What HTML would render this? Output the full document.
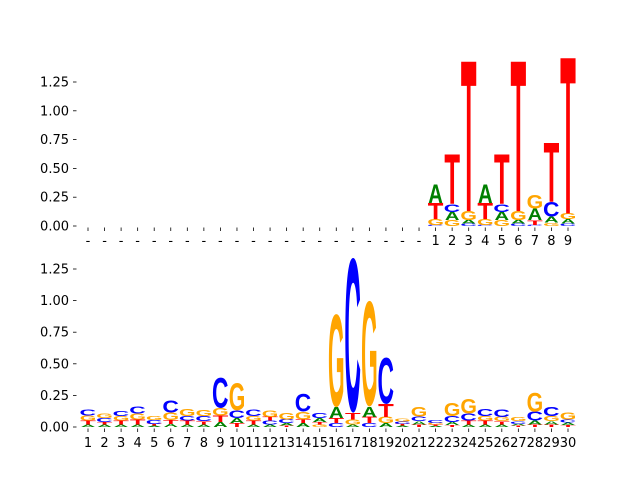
<!DOCTYPE html>
<html><head><meta charset="utf-8"><style>
html,body{margin:0;padding:0;background:#fff;}
svg text{font-family:"DejaVu Sans","Liberation Sans",sans-serif;}
</style></head><body>
<svg id="chart" width="640" height="480" viewBox="0 0 640 480" xmlns="http://www.w3.org/2000/svg">
<g id="top"></g>
<g id="bot"></g>
</svg>
<script>
// ---- top panel data (positions 1..9 shown at slots 22..30) ----
const topLabels = ['-','-','-','-','-','-','-','-','-','-','-','-','-','-','-','-','-','-','-','-','-','1','2','3','4','5','6','7','8','9'];
const topA = [0.16,0.07,0.03,0.16,0.07,0.03,0.10,0.05,0.04];
const topC = [0.01,0.07,0.02,0.01,0.07,0.02,0.01,0.13,0.02];
const topG = [0.05,0.05,0.08,0.05,0.05,0.08,0.12,0.03,0.05];
const topT = [0.14,0.43,1.30,0.14,0.43,1.30,0.04,0.51,1.35];
// ---- bottom panel data (positions 1..30) ----
const botLabels = ['1','2','3','4','5','6','7','8','9','10','11','12','13','14','15','16','17','18','19','20','21','22','23','24','25','26','27','28','29','30'];
const botA = [0.02,0.02,0.02,0.02,0.01,0.025,0.02,0.02,0.04,0.04,0.02,0.02,0.02,0.03,0.03,0.085,0.02,0.08,0.03,0.01,0.025,0.008,0.025,0.02,0.02,0.02,0.015,0.03,0.025,0.02];
const botC = [0.045,0.03,0.04,0.055,0.03,0.10,0.035,0.04,0.24,0.06,0.05,0.03,0.03,0.14,0.04,0.03,1.23,0.03,0.37,0.02,0.035,0.025,0.045,0.055,0.055,0.06,0.02,0.07,0.07,0.025];
const botG = [0.04,0.035,0.035,0.045,0.03,0.06,0.055,0.045,0.06,0.22,0.035,0.05,0.05,0.06,0.02,0.74,0.04,0.84,0.05,0.025,0.08,0.015,0.105,0.12,0.035,0.035,0.03,0.15,0.04,0.055];
const botT = [0.03,0.02,0.03,0.04,0.015,0.03,0.03,0.025,0.05,0.03,0.03,0.03,0.01,0.03,0.02,0.04,0.05,0.05,0.10,0.015,0.02,0.01,0.015,0.03,0.03,0.025,0.01,0.02,0.02,0.015];
const yTicks = [0, 0.25, 0.5, 0.75, 1.0, 1.25];
const yTickLabels = ['0.00','0.25','0.50','0.75','1.00','1.25'];

const NS = 'http://www.w3.org/2000/svg';
const colors = {A:'#008000', C:'#0000ff', G:'#ffa500', T:'#ff0000'};
// approximate ink extents (em units)
const ink = {A:[0.0,0.722,0,0.69], C:[0.05,0.69,-0.012,0.70], G:[0.045,0.73,-0.012,0.70], T:[0.02,0.59,0,0.69]};
const STEP = 480/29;
function xScale(i){ return 88 + i*STEP; }

function panel(gid, base, pxPerUnit, labels, A, C, G, T, offset, labelY){
  const g = document.getElementById(gid);
  const yScale = v => base - v*pxPerUnit;
  yTicks.forEach((v,k)=>{
    const y = yScale(v);
    const ln = document.createElementNS(NS,'line');
    ln.setAttribute('x1',73); ln.setAttribute('x2',76.5); ln.setAttribute('y1',y); ln.setAttribute('y2',y);
    ln.setAttribute('stroke','#000'); ln.setAttribute('stroke-width','0.8');
    
    
    g.appendChild(ln);
    const t = document.createElementNS(NS,'text');
    t.setAttribute('x',69); t.setAttribute('y',y+4.5); t.setAttribute('text-anchor','end');
    t.setAttribute('font-size','13'); t.textContent = yTickLabels[k];
    
    
    g.appendChild(t);
  });
  labels.forEach((lab,i)=>{
    const x = xScale(i);
    const ln = document.createElementNS(NS,'line');
    ln.setAttribute('x1',x); ln.setAttribute('x2',x); ln.setAttribute('y1',base+1.5); ln.setAttribute('y2',base+5);
    ln.setAttribute('stroke','#000'); ln.setAttribute('stroke-width','0.8');
    
    
    g.appendChild(ln);
    const t = document.createElementNS(NS,'text');
    t.setAttribute('x',x); t.setAttribute('y',labelY); t.setAttribute('text-anchor','middle');
    t.setAttribute('font-size','13'); t.textContent = lab;
    
    
    g.appendChild(t);
  });
  const W = 14.6;
  for(let j=0;j<A.length;j++){
    const i = j + offset;
    const x0 = xScale(i) - W/2;
    const stack = [['A',A[j]],['C',C[j]],['G',G[j]],['T',T[j]]].sort((a,b)=>a[1]-b[1]);
    let cum = 0;
    stack.forEach(([L,h])=>{
      const e = ink[L];
      const fs = 100;
      const sx = W/((e[1]-e[0])*fs);
      const sy = (h*pxPerUnit)/((e[3]-e[2])*fs);
      const yb = yScale(cum);
      const t = document.createElementNS(NS,'text');
      t.setAttribute('x',0); t.setAttribute('y',0);
      t.setAttribute('font-size',fs);
      t.setAttribute('font-weight','bold');
      t.setAttribute('style','font-family:"Liberation Sans",sans-serif');
      t.setAttribute('fill',colors[L]);
      t.setAttribute('transform',`translate(${x0 - e[0]*fs*sx},${yb + e[2]*fs*sy}) scale(${sx},${sy})`);
      t.textContent = L;
      
      
      g.appendChild(t);
      cum += h;
    });
  }
}
panel('top', 226, 115.2, topLabels, topA, topC, topG, topT, 21, 245);
panel('bot', 427, 126.4, botLabels, botA, botC, botG, botT, 0, 447);
</script>
</body></html>
